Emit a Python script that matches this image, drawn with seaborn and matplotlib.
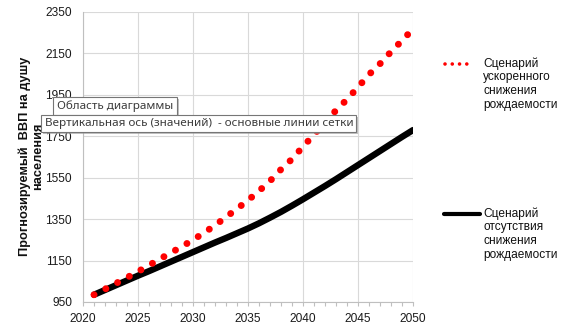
import matplotlib
matplotlib.use("Agg")
import matplotlib.pyplot as plt
import seaborn as sns
import pandas as pd
from matplotlib.lines import Line2D
from matplotlib.patches import Rectangle

# ---- data ----
years = list(range(2021, 2051))
accelerated = [985, 1012, 1040, 1068, 1097, 1127, 1158, 1188, 1218, 1250,
               1284, 1320, 1360, 1400, 1441, 1486, 1534, 1590, 1640, 1700,
               1758, 1818, 1875, 1928, 1987, 2048, 2100, 2158, 2212, 2268]
no_decline = [985, 1008, 1031, 1054, 1077, 1099, 1122, 1145, 1168, 1191,
              1214, 1237, 1259, 1282, 1305, 1330, 1357, 1385, 1415, 1446,
              1478, 1510, 1543, 1577, 1611, 1645, 1679, 1713, 1747, 1780]
label_accel = "Сценарий\nускоренного\nснижения\nрождаемости"
label_none = "Сценарий\nотсутствия\nснижения\nрождаемости"
y_title = "Прогнозируемый  ВВП на душу\nнаселения"
x_ticks = list(range(2020, 2051, 5))
y_ticks = list(range(950, 2351, 200))
tooltip1 = "Область диаграммы"
tooltip2 = "Вертикальная ось (значений)  - основные линии сетки"

sns.set_style("white")
plt.rcParams["font.family"] = ["Liberation Sans", "DejaVu Sans"]

W, H = 566, 329
def fx(x):
    return x / W
def fy(y):
    return 1 - y / H

fig = plt.figure(figsize=(W / 100, H / 100), dpi=100)
ax = fig.add_axes([fx(83), fy(302), 330 / W, 290 / H])

df = pd.DataFrame({"year": years, "accel": accelerated, "none": no_decline})
sns.lineplot(data=df, x="year", y="none", ax=ax, color="black", lw=4.6,
             solid_capstyle="round", legend=False, zorder=3)
sns.lineplot(data=df, x="year", y="accel", ax=ax, color="#ff0000", lw=5,
             linestyle=(0, (0.01, 1.9)), dash_capstyle="round",
             legend=False, zorder=4)

ax.set_xlim(2020, 2050)
ax.set_ylim(950, 2350)
ax.set_xticks(x_ticks)
ax.set_xticks(years, minor=True)
ax.set_yticks(y_ticks)
ax.set_xlabel("")
ax.set_ylabel("")
ax.grid(True, which="major", color="#d9d9d9", lw=0.8)
ax.set_axisbelow(True)
for s in ["top", "right"]:
    ax.spines[s].set_visible(False)
for s in ["left", "bottom"]:
    ax.spines[s].set_color("#bfbfbf")
    ax.spines[s].set_linewidth(0.8)
ax.tick_params(axis="x", which="both", direction="out", length=3,
               color="#bfbfbf", width=0.8, pad=5, labelsize=8.6,
               labelcolor="#1a1a1a", bottom=True)
ax.tick_params(axis="y", length=0, pad=8, labelsize=8.6, labelcolor="#1a1a1a")

# y title
fig.text(fx(31), fy(156), y_title, rotation=90, ha="center", va="center",
         fontsize=9.2, fontweight="bold", multialignment="center", color="#111",
         linespacing=1.15)

# legend (manual)
fig.add_artist(Line2D([fx(445), fx(474)], [fy(64), fy(64)], color="#ff0000",
                      lw=2.6, linestyle=(0, (0.01, 2.0)),
                      dash_capstyle="round", transform=fig.transFigure))
fig.text(fx(483), fy(57), label_accel, ha="left", va="top", fontsize=8.6,
         linespacing=1.2, color="#111")
fig.add_artist(Line2D([fx(444), fx(480)], [fy(214), fy(214)], color="black",
                      lw=3.0, solid_capstyle="round",
                      transform=fig.transFigure))
fig.text(fx(483), fy(207), label_none, ha="left", va="top", fontsize=8.6,
         linespacing=1.2, color="#111")

# tooltips
def tooltip(x0, y0, x1, y1, text):
    fig.add_artist(Rectangle((fx(x0 + 2), fy(y1 + 2)), (x1 - x0) / W,
                             (y1 - y0) / H, transform=fig.transFigure,
                             facecolor="#9a9a9a", edgecolor="none",
                             alpha=0.6, zorder=10))
    fig.add_artist(Rectangle((fx(x0), fy(y1)), (x1 - x0) / W,
                             (y1 - y0) / H, transform=fig.transFigure,
                             facecolor="white", edgecolor="#767676",
                             lw=0.8, zorder=11))
    fig.text(fx(x0 + 4), fy((y0 + y1) / 2), text, ha="left", va="center",
             fontsize=8.4, color="#3b3b3b", family=["Noto Sans", "DejaVu Sans"],
             zorder=12)

tooltip(53, 97, 177, 115, tooltip1)
tooltip(41, 115, 356, 132, tooltip2)

fig.savefig("out.png", dpi=100)
